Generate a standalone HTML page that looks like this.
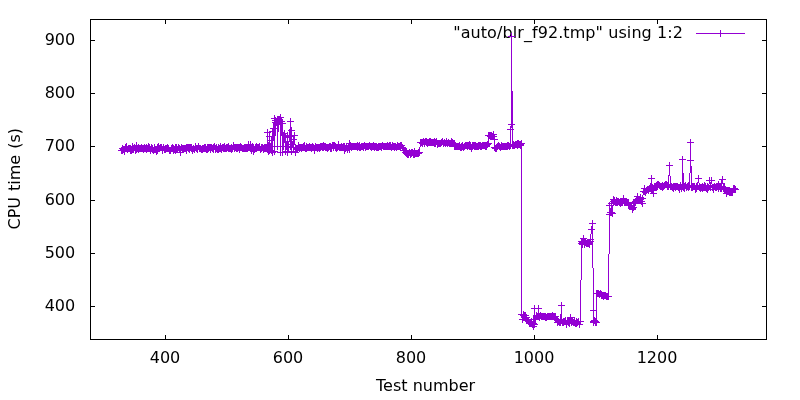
<!DOCTYPE html>
<html><head><meta charset="utf-8"><title>plot</title>
<style>
html,body{margin:0;padding:0;background:#fff;width:800px;height:400px;overflow:hidden}
svg{display:block}
text{font-family:"DejaVu Sans","Liberation Sans",sans-serif;font-size:16px;fill:#000}
</style></head><body>
<svg width="800" height="400" viewBox="0 0 800 400">
<rect width="800" height="400" fill="#fff"/>
<g id="axes" fill="none" stroke="#000" stroke-width="1">
<path d="M165.5 339.5v-4.5M165.5 19.5v4.5M288.5 339.5v-4.5M288.5 19.5v4.5M411.5 339.5v-4.5M411.5 19.5v4.5M534.5 339.5v-4.5M534.5 19.5v4.5M657.5 339.5v-4.5M657.5 19.5v4.5M90.5 306.5h4.5M766.5 306.5h-4.5M90.5 253.5h4.5M766.5 253.5h-4.5M90.5 200.5h4.5M766.5 200.5h-4.5M90.5 146.5h4.5M766.5 146.5h-4.5M90.5 93.5h4.5M766.5 93.5h-4.5M90.5 40.5h4.5M766.5 40.5h-4.5"/>
</g>
<g id="labels">
<text x="165.0" y="362.8" text-anchor="middle">400</text>
<text x="288.0" y="362.8" text-anchor="middle">600</text>
<text x="411.0" y="362.8" text-anchor="middle">800</text>
<text x="534.0" y="362.8" text-anchor="middle">1000</text>
<text x="657.0" y="362.8" text-anchor="middle">1200</text>
<text x="75.2" y="311.1" text-anchor="end">400</text>
<text x="75.2" y="258.1" text-anchor="end">500</text>
<text x="75.2" y="205.1" text-anchor="end">600</text>
<text x="75.2" y="151.1" text-anchor="end">700</text>
<text x="75.2" y="98.1" text-anchor="end">800</text>
<text x="75.2" y="45.1" text-anchor="end">900</text>
<text x="425.6" y="391.2" text-anchor="middle">Test number</text>
<text transform="translate(19.5,229.5) rotate(-90)" word-spacing="0.9">CPU time (s)</text>
<text x="683" y="38" text-anchor="end" letter-spacing="0.08">"auto/blr_f92.tmp" using 1:2</text>
</g>
<g id="data" fill="none" stroke="#9400D3" stroke-width="1" shape-rendering="crispEdges">
<path d="M696 33.5H745"/>
<path d="M717 33.5h7M720.5 30v7"/>
<polyline points="121.5,150.5 122.5,148.5 122.5,150.5 123.5,149.5 124.5,151.5 124.5,150.5 125.5,147.5 125.5,147.5 126.5,146.5 127.5,149.5 127.5,149.5 128.5,148.5 128.5,148.5 129.5,148.5 130.5,150.5 130.5,148.5 131.5,150.5 132.5,149.5 132.5,146.5 133.5,149.5 133.5,149.5 134.5,147.5 135.5,149.5 135.5,150.5 136.5,145.5 136.5,149.5 137.5,148.5 138.5,149.5 138.5,147.5 139.5,148.5 140.5,148.5 140.5,148.5 141.5,147.5 141.5,148.5 142.5,148.5 143.5,149.5 143.5,148.5 144.5,147.5 144.5,148.5 145.5,148.5 146.5,147.5 146.5,149.5 147.5,148.5 148.5,148.5 148.5,146.5 149.5,147.5 149.5,148.5 150.5,150.5 151.5,147.5 151.5,148.5 152.5,149.5 152.5,148.5 153.5,150.5 154.5,149.5 154.5,147.5 155.5,149.5 156.5,149.5 156.5,151.5 157.5,147.5 157.5,150.5 158.5,146.5 159.5,148.5 159.5,148.5 160.5,147.5 160.5,147.5 161.5,147.5 162.5,150.5 162.5,149.5 163.5,147.5 164.5,149.5 164.5,149.5 165.5,148.5 165.5,149.5 166.5,148.5 167.5,147.5 167.5,148.5 168.5,148.5 168.5,148.5 169.5,150.5 170.5,150.5 170.5,150.5 171.5,148.5 172.5,147.5 172.5,148.5 173.5,148.5 173.5,150.5 174.5,149.5 175.5,147.5 175.5,150.5 176.5,147.5 176.5,149.5 177.5,149.5 178.5,147.5 178.5,147.5 179.5,148.5 180.5,149.5 180.5,152.5 181.5,147.5 181.5,147.5 182.5,148.5 183.5,148.5 183.5,149.5 184.5,148.5 184.5,148.5 185.5,148.5 186.5,147.5 186.5,150.5 187.5,147.5 188.5,148.5 188.5,147.5 189.5,147.5 189.5,149.5 190.5,147.5 191.5,147.5 191.5,148.5 192.5,150.5 192.5,149.5 193.5,148.5 194.5,149.5 194.5,149.5 195.5,146.5 196.5,148.5 196.5,148.5 197.5,148.5 197.5,149.5 198.5,146.5 199.5,148.5 199.5,148.5 200.5,148.5 200.5,148.5 201.5,149.5 202.5,149.5 202.5,148.5 203.5,148.5 204.5,147.5 204.5,148.5 205.5,148.5 205.5,147.5 206.5,149.5 207.5,149.5 207.5,147.5 208.5,148.5 208.5,147.5 209.5,147.5 210.5,149.5 210.5,147.5 211.5,147.5 212.5,148.5 212.5,148.5 213.5,149.5 213.5,147.5 214.5,146.5 215.5,149.5 215.5,148.5 216.5,147.5 216.5,148.5 217.5,149.5 218.5,149.5 218.5,147.5 219.5,148.5 220.5,148.5 220.5,146.5 221.5,149.5 221.5,148.5 222.5,147.5 223.5,148.5 223.5,147.5 224.5,146.5 224.5,148.5 225.5,148.5 226.5,148.5 226.5,147.5 227.5,147.5 228.5,146.5 228.5,148.5 229.5,148.5 229.5,148.5 230.5,148.5 231.5,149.5 231.5,147.5 232.5,148.5 232.5,148.5 233.5,145.5 234.5,148.5 234.5,147.5 235.5,147.5 236.5,148.5 236.5,147.5 237.5,147.5 237.5,148.5 238.5,147.5 239.5,147.5 239.5,149.5 240.5,146.5 240.5,147.5 241.5,147.5 242.5,148.5 242.5,148.5 243.5,148.5 244.5,147.5 244.5,148.5 245.5,148.5 245.5,147.5 246.5,148.5 247.5,147.5 247.5,148.5 248.5,147.5 248.5,144.5 249.5,147.5 250.5,144.5 250.5,147.5 251.5,148.5 251.5,150.5 252.5,146.5 253.5,148.5 253.5,151.5 254.5,149.5 255.5,147.5 255.5,147.5 256.5,146.5 256.5,148.5 257.5,147.5 258.5,147.5 258.5,147.5 259.5,146.5 259.5,147.5 260.5,149.5 261.5,147.5 261.5,148.5 262.5,147.5 263.5,148.5 263.5,149.5 264.5,147.5 264.5,148.5 265.5,147.5 266.5,147.5 266.5,148.5 267.5,149.5 267.5,132.5 268.5,151.5 269.5,136.5 269.5,150.5 270.5,146.5 271.5,140.5 271.5,150.5 272.5,131.5 272.5,152.5 273.5,128.5 274.5,118.5 274.5,151.5 275.5,122.5 275.5,120.5 276.5,122.5 277.5,119.5 277.5,146.5 278.5,119.5 279.5,121.5 279.5,119.5 280.5,117.5 280.5,152.5 281.5,121.5 282.5,123.5 282.5,152.5 283.5,135.5 283.5,146.5 284.5,133.5 285.5,151.5 285.5,137.5 286.5,146.5 287.5,135.5 287.5,152.5 288.5,144.5 288.5,147.5 289.5,136.5 290.5,121.5 290.5,146.5 291.5,130.5 291.5,151.5 292.5,144.5 293.5,147.5 293.5,139.5 294.5,135.5 295.5,152.5 295.5,147.5 296.5,149.5 296.5,148.5 297.5,148.5 298.5,147.5 298.5,145.5 299.5,147.5 299.5,148.5 300.5,147.5 301.5,148.5 301.5,147.5 302.5,147.5 303.5,146.5 303.5,147.5 304.5,147.5 304.5,145.5 305.5,148.5 306.5,148.5 306.5,146.5 307.5,147.5 307.5,147.5 308.5,147.5 309.5,147.5 309.5,146.5 310.5,147.5 311.5,147.5 311.5,148.5 312.5,147.5 312.5,146.5 313.5,147.5 314.5,150.5 314.5,148.5 315.5,146.5 315.5,146.5 316.5,147.5 317.5,147.5 317.5,148.5 318.5,147.5 319.5,147.5 319.5,148.5 320.5,147.5 320.5,146.5 321.5,146.5 322.5,146.5 322.5,147.5 323.5,147.5 323.5,145.5 324.5,146.5 325.5,146.5 325.5,147.5 326.5,147.5 327.5,148.5 327.5,147.5 328.5,147.5 328.5,147.5 329.5,146.5 330.5,148.5 330.5,146.5 331.5,148.5 331.5,147.5 332.5,145.5 333.5,147.5 333.5,145.5 334.5,145.5 335.5,147.5 335.5,146.5 336.5,148.5 336.5,147.5 337.5,147.5 338.5,144.5 338.5,146.5 339.5,147.5 339.5,147.5 340.5,147.5 341.5,146.5 341.5,146.5 342.5,147.5 343.5,146.5 343.5,147.5 344.5,150.5 344.5,146.5 345.5,148.5 346.5,147.5 346.5,146.5 347.5,148.5 347.5,149.5 348.5,147.5 349.5,149.5 349.5,143.5 350.5,145.5 351.5,147.5 351.5,146.5 352.5,146.5 352.5,146.5 353.5,146.5 354.5,146.5 354.5,146.5 355.5,146.5 355.5,146.5 356.5,146.5 357.5,145.5 357.5,147.5 358.5,146.5 359.5,147.5 359.5,145.5 360.5,147.5 360.5,147.5 361.5,146.5 362.5,146.5 362.5,146.5 363.5,146.5 363.5,147.5 364.5,145.5 365.5,146.5 365.5,147.5 366.5,146.5 367.5,146.5 367.5,146.5 368.5,146.5 368.5,146.5 369.5,145.5 370.5,146.5 370.5,146.5 371.5,146.5 371.5,147.5 372.5,146.5 373.5,145.5 373.5,146.5 374.5,146.5 374.5,147.5 375.5,146.5 376.5,147.5 376.5,146.5 377.5,147.5 378.5,147.5 378.5,146.5 379.5,146.5 379.5,146.5 380.5,146.5 381.5,146.5 381.5,147.5 382.5,145.5 382.5,145.5 383.5,146.5 384.5,146.5 384.5,146.5 385.5,146.5 386.5,146.5 386.5,146.5 387.5,145.5 387.5,146.5 388.5,146.5 389.5,146.5 389.5,145.5 390.5,146.5 390.5,145.5 391.5,147.5 392.5,146.5 392.5,145.5 393.5,146.5 394.5,147.5 394.5,146.5 395.5,146.5 395.5,146.5 396.5,147.5 397.5,145.5 397.5,146.5 398.5,146.5 398.5,146.5 399.5,146.5 400.5,146.5 400.5,145.5 401.5,145.5 402.5,147.5 402.5,147.5 403.5,148.5 403.5,150.5 404.5,150.5 405.5,150.5 405.5,152.5 406.5,152.5 406.5,153.5 407.5,154.5 408.5,153.5 408.5,154.5 409.5,152.5 410.5,154.5 410.5,153.5 411.5,152.5 411.5,153.5 412.5,152.5 413.5,154.5 413.5,153.5 414.5,154.5 414.5,151.5 415.5,153.5 416.5,153.5 416.5,153.5 417.5,153.5 418.5,152.5 418.5,153.5 419.5,152.5 419.5,152.5 420.5,142.5 421.5,142.5 421.5,142.5 422.5,142.5 422.5,143.5 423.5,141.5 424.5,143.5 424.5,142.5 425.5,141.5 426.5,141.5 426.5,142.5 427.5,142.5 427.5,143.5 428.5,142.5 429.5,142.5 429.5,141.5 430.5,142.5 430.5,141.5 431.5,142.5 432.5,142.5 432.5,142.5 433.5,142.5 434.5,143.5 434.5,141.5 435.5,143.5 435.5,142.5 436.5,141.5 437.5,143.5 437.5,144.5 438.5,143.5 438.5,143.5 439.5,143.5 440.5,143.5 440.5,143.5 441.5,142.5 442.5,141.5 442.5,141.5 443.5,143.5 443.5,143.5 444.5,142.5 445.5,143.5 445.5,143.5 446.5,141.5 446.5,142.5 447.5,143.5 448.5,142.5 448.5,142.5 449.5,143.5 450.5,143.5 450.5,143.5 451.5,141.5 451.5,142.5 452.5,142.5 453.5,143.5 453.5,143.5 454.5,143.5 454.5,146.5 455.5,146.5 456.5,146.5 456.5,146.5 457.5,146.5 458.5,146.5 458.5,146.5 459.5,145.5 459.5,146.5 460.5,147.5 461.5,146.5 461.5,147.5 462.5,145.5 462.5,146.5 463.5,147.5 464.5,146.5 464.5,146.5 465.5,145.5 466.5,145.5 466.5,145.5 467.5,145.5 467.5,146.5 468.5,145.5 469.5,144.5 469.5,146.5 470.5,146.5 470.5,145.5 471.5,148.5 472.5,146.5 472.5,145.5 473.5,145.5 474.5,146.5 474.5,145.5 475.5,145.5 475.5,146.5 476.5,146.5 477.5,146.5 477.5,146.5 478.5,145.5 478.5,146.5 479.5,145.5 480.5,145.5 480.5,146.5 481.5,146.5 482.5,145.5 482.5,145.5 483.5,145.5 483.5,145.5 484.5,145.5 485.5,145.5 485.5,146.5 486.5,145.5 486.5,146.5 487.5,144.5 488.5,143.5 488.5,135.5 489.5,135.5 490.5,136.5 490.5,135.5 491.5,135.5 491.5,135.5 492.5,136.5 493.5,134.5 493.5,136.5 494.5,139.5 494.5,147.5 495.5,148.5 496.5,148.5 496.5,147.5 497.5,146.5 497.5,146.5 498.5,145.5 499.5,146.5 499.5,146.5 500.5,147.5 501.5,145.5 501.5,146.5 502.5,146.5 502.5,146.5 503.5,146.5 504.5,146.5 504.5,146.5 505.5,146.5 505.5,146.5 506.5,146.5 507.5,145.5 507.5,146.5 508.5,145.5 509.5,146.5 510.5,145.5 510.5,129.5 511.5,124.5 511.5,36.5 512.5,144.5 512.5,145.5 513.5,144.5 513.5,145.5 514.5,145.5 515.5,144.5 515.5,144.5 516.5,144.5 517.5,143.5 517.5,145.5 518.5,144.5 518.5,143.5 519.5,144.5 520.5,145.5 520.5,144.5 521.5,143.5 521.5,314.5 522.5,319.5 523.5,314.5 523.5,315.5 524.5,315.5 525.5,315.5 525.5,317.5 526.5,317.5 526.5,320.5 527.5,320.5 528.5,321.5 528.5,321.5 529.5,322.5 529.5,323.5 530.5,322.5 531.5,321.5 531.5,323.5 532.5,324.5 533.5,323.5 533.5,326.5 534.5,308.5 534.5,324.5 535.5,319.5 536.5,315.5 536.5,316.5 537.5,316.5 538.5,316.5 538.5,308.5 539.5,316.5 539.5,317.5 540.5,315.5 541.5,316.5 541.5,316.5 542.5,316.5 542.5,316.5 543.5,316.5 544.5,316.5 544.5,316.5 545.5,317.5 545.5,316.5 546.5,317.5 547.5,316.5 547.5,316.5 548.5,316.5 549.5,316.5 549.5,316.5 550.5,316.5 550.5,316.5 551.5,316.5 552.5,315.5 552.5,316.5 553.5,316.5 553.5,316.5 554.5,316.5 555.5,316.5 555.5,318.5 556.5,319.5 557.5,320.5 557.5,322.5 558.5,321.5 558.5,321.5 559.5,322.5 560.5,321.5 560.5,322.5 561.5,305.5 561.5,320.5 562.5,322.5 563.5,321.5 563.5,322.5 564.5,321.5 565.5,320.5 565.5,321.5 566.5,323.5 566.5,324.5 567.5,321.5 568.5,322.5 568.5,321.5 569.5,323.5 569.5,321.5 570.5,317.5 571.5,322.5 571.5,321.5 572.5,321.5 573.5,322.5 573.5,322.5 574.5,320.5 574.5,322.5 575.5,323.5 576.5,323.5 576.5,321.5 577.5,322.5 577.5,322.5 578.5,321.5 579.5,324.5 579.5,324.5 580.5,321.5 581.5,241.5 581.5,243.5 582.5,244.5 582.5,242.5 583.5,238.5 584.5,244.5 584.5,242.5 585.5,242.5 585.5,242.5 586.5,243.5 587.5,243.5 587.5,243.5 588.5,243.5 589.5,242.5 589.5,244.5 590.5,241.5 590.5,239.5 591.5,229.5 592.5,223.5 593.5,310.5 593.5,321.5 593.5,322.5 594.5,320.5 595.5,322.5 595.5,321.5 596.5,322.5 596.5,293.5 597.5,293.5 598.5,293.5 598.5,293.5 599.5,294.5 600.5,293.5 600.5,293.5 601.5,294.5 601.5,295.5 602.5,295.5 603.5,295.5 603.5,296.5 604.5,295.5 605.5,295.5 605.5,295.5 606.5,296.5 606.5,296.5 607.5,296.5 608.5,296.5 608.5,296.5 609.5,214.5 609.5,205.5 610.5,212.5 611.5,203.5 611.5,212.5 612.5,213.5 613.5,199.5 613.5,201.5 614.5,200.5 614.5,201.5 615.5,202.5 616.5,202.5 616.5,200.5 617.5,202.5 617.5,201.5 618.5,201.5 619.5,202.5 619.5,202.5 620.5,202.5 620.5,203.5 621.5,202.5 622.5,202.5 622.5,202.5 623.5,198.5 624.5,202.5 624.5,201.5 625.5,201.5 625.5,201.5 626.5,202.5 627.5,202.5 627.5,202.5 628.5,202.5 628.5,205.5 629.5,205.5 630.5,205.5 630.5,205.5 631.5,206.5 632.5,209.5 632.5,208.5 633.5,207.5 633.5,207.5 634.5,203.5 635.5,202.5 635.5,201.5 636.5,199.5 636.5,200.5 637.5,196.5 638.5,200.5 638.5,200.5 639.5,199.5 640.5,197.5 640.5,199.5 641.5,201.5 642.5,203.5 642.5,198.5 643.5,191.5 643.5,191.5 644.5,191.5 644.5,188.5 645.5,192.5 646.5,190.5 646.5,190.5 647.5,189.5 648.5,189.5 648.5,190.5 649.5,188.5 649.5,188.5 650.5,188.5 651.5,178.5 651.5,189.5 652.5,187.5 652.5,190.5 653.5,193.5 654.5,187.5 654.5,186.5 655.5,186.5 656.5,187.5 656.5,185.5 657.5,186.5 657.5,184.5 658.5,184.5 659.5,185.5 659.5,185.5 660.5,186.5 660.5,186.5 661.5,186.5 662.5,187.5 662.5,185.5 663.5,186.5 664.5,185.5 664.5,185.5 665.5,184.5 665.5,184.5 666.5,184.5 667.5,186.5 667.5,185.5 668.5,186.5 668.5,184.5 669.5,165.5 670.5,185.5 670.5,186.5 671.5,186.5 672.5,187.5 672.5,187.5 673.5,188.5 673.5,186.5 674.5,186.5 675.5,187.5 675.5,186.5 676.5,186.5 676.5,186.5 677.5,186.5 678.5,187.5 678.5,187.5 679.5,189.5 680.5,185.5 680.5,186.5 681.5,188.5 682.5,184.5 682.5,159.5 683.5,185.5 683.5,187.5 684.5,186.5 684.5,188.5 685.5,185.5 686.5,187.5 686.5,187.5 687.5,186.5 688.5,187.5 688.5,185.5 689.5,186.5 690.5,160.5 690.5,142.5 691.5,187.5 691.5,186.5 692.5,187.5 692.5,186.5 693.5,186.5 694.5,186.5 694.5,186.5 695.5,189.5 696.5,188.5 696.5,186.5 697.5,185.5 697.5,186.5 698.5,178.5 699.5,187.5 699.5,186.5 700.5,188.5 700.5,187.5 701.5,187.5 702.5,188.5 702.5,186.5 703.5,187.5 704.5,185.5 704.5,187.5 705.5,187.5 705.5,186.5 706.5,188.5 707.5,186.5 707.5,189.5 708.5,187.5 708.5,187.5 709.5,180.5 710.5,187.5 710.5,185.5 711.5,180.5 712.5,187.5 712.5,187.5 713.5,187.5 713.5,189.5 714.5,186.5 715.5,187.5 715.5,187.5 716.5,186.5 716.5,187.5 717.5,186.5 718.5,188.5 718.5,184.5 719.5,186.5 720.5,188.5 720.5,186.5 721.5,183.5 721.5,188.5 722.5,179.5 723.5,187.5 723.5,188.5 724.5,189.5 724.5,187.5 725.5,189.5 726.5,191.5 726.5,193.5 727.5,191.5 728.5,190.5 728.5,191.5 729.5,190.5 729.5,192.5 730.5,192.5 731.5,192.5 731.5,192.5 732.5,191.5 732.5,192.5 733.5,188.5 734.5,189.5 734.5,188.5 735.5,189.5"/>
<path d="M118 150.5h7M121.5 147v7M119 148.5h7M122.5 145v7M119 150.5h7M122.5 147v7M120 149.5h7M123.5 146v7M121 151.5h7M124.5 148v7M121 150.5h7M124.5 147v7M122 147.5h7M125.5 144v7M123 146.5h7M126.5 143v7M124 149.5h7M127.5 146v7M125 148.5h7M128.5 145v7M126 148.5h7M129.5 145v7M127 150.5h7M130.5 147v7M127 148.5h7M130.5 145v7M128 150.5h7M131.5 147v7M129 149.5h7M132.5 146v7M129 146.5h7M132.5 143v7M130 149.5h7M133.5 146v7M131 147.5h7M134.5 144v7M132 149.5h7M135.5 146v7M132 150.5h7M135.5 147v7M133 145.5h7M136.5 142v7M133 149.5h7M136.5 146v7M134 148.5h7M137.5 145v7M135 149.5h7M138.5 146v7M135 147.5h7M138.5 144v7M136 148.5h7M139.5 145v7M137 148.5h7M140.5 145v7M138 147.5h7M141.5 144v7M138 148.5h7M141.5 145v7M139 148.5h7M142.5 145v7M140 149.5h7M143.5 146v7M140 148.5h7M143.5 145v7M141 147.5h7M144.5 144v7M141 148.5h7M144.5 145v7M142 148.5h7M145.5 145v7M143 147.5h7M146.5 144v7M143 149.5h7M146.5 146v7M144 148.5h7M147.5 145v7M145 148.5h7M148.5 145v7M145 146.5h7M148.5 143v7M146 147.5h7M149.5 144v7M146 148.5h7M149.5 145v7M147 150.5h7M150.5 147v7M148 147.5h7M151.5 144v7M148 148.5h7M151.5 145v7M149 149.5h7M152.5 146v7M149 148.5h7M152.5 145v7M150 150.5h7M153.5 147v7M151 149.5h7M154.5 146v7M151 147.5h7M154.5 144v7M152 149.5h7M155.5 146v7M153 149.5h7M156.5 146v7M153 151.5h7M156.5 148v7M154 147.5h7M157.5 144v7M154 150.5h7M157.5 147v7M155 146.5h7M158.5 143v7M156 148.5h7M159.5 145v7M157 147.5h7M160.5 144v7M158 147.5h7M161.5 144v7M159 150.5h7M162.5 147v7M159 149.5h7M162.5 146v7M160 147.5h7M163.5 144v7M161 149.5h7M164.5 146v7M162 148.5h7M165.5 145v7M162 149.5h7M165.5 146v7M163 148.5h7M166.5 145v7M164 147.5h7M167.5 144v7M164 148.5h7M167.5 145v7M165 148.5h7M168.5 145v7M166 150.5h7M169.5 147v7M167 150.5h7M170.5 147v7M168 148.5h7M171.5 145v7M169 147.5h7M172.5 144v7M169 148.5h7M172.5 145v7M170 148.5h7M173.5 145v7M170 150.5h7M173.5 147v7M171 149.5h7M174.5 146v7M172 147.5h7M175.5 144v7M172 150.5h7M175.5 147v7M173 147.5h7M176.5 144v7M173 149.5h7M176.5 146v7M174 149.5h7M177.5 146v7M175 147.5h7M178.5 144v7M176 148.5h7M179.5 145v7M177 149.5h7M180.5 146v7M177 152.5h7M180.5 149v7M178 147.5h7M181.5 144v7M179 148.5h7M182.5 145v7M180 148.5h7M183.5 145v7M180 149.5h7M183.5 146v7M181 148.5h7M184.5 145v7M182 148.5h7M185.5 145v7M183 147.5h7M186.5 144v7M183 150.5h7M186.5 147v7M184 147.5h7M187.5 144v7M185 148.5h7M188.5 145v7M185 147.5h7M188.5 144v7M186 147.5h7M189.5 144v7M186 149.5h7M189.5 146v7M187 147.5h7M190.5 144v7M188 147.5h7M191.5 144v7M188 148.5h7M191.5 145v7M189 150.5h7M192.5 147v7M189 149.5h7M192.5 146v7M190 148.5h7M193.5 145v7M191 149.5h7M194.5 146v7M192 146.5h7M195.5 143v7M193 148.5h7M196.5 145v7M194 148.5h7M197.5 145v7M194 149.5h7M197.5 146v7M195 146.5h7M198.5 143v7M196 148.5h7M199.5 145v7M197 148.5h7M200.5 145v7M198 149.5h7M201.5 146v7M199 149.5h7M202.5 146v7M199 148.5h7M202.5 145v7M200 148.5h7M203.5 145v7M201 147.5h7M204.5 144v7M201 148.5h7M204.5 145v7M202 148.5h7M205.5 145v7M202 147.5h7M205.5 144v7M203 149.5h7M206.5 146v7M204 149.5h7M207.5 146v7M204 147.5h7M207.5 144v7M205 148.5h7M208.5 145v7M205 147.5h7M208.5 144v7M206 147.5h7M209.5 144v7M207 149.5h7M210.5 146v7M207 147.5h7M210.5 144v7M208 147.5h7M211.5 144v7M209 148.5h7M212.5 145v7M210 149.5h7M213.5 146v7M210 147.5h7M213.5 144v7M211 146.5h7M214.5 143v7M212 149.5h7M215.5 146v7M212 148.5h7M215.5 145v7M213 147.5h7M216.5 144v7M213 148.5h7M216.5 145v7M214 149.5h7M217.5 146v7M215 149.5h7M218.5 146v7M215 147.5h7M218.5 144v7M216 148.5h7M219.5 145v7M217 148.5h7M220.5 145v7M217 146.5h7M220.5 143v7M218 149.5h7M221.5 146v7M218 148.5h7M221.5 145v7M219 147.5h7M222.5 144v7M220 148.5h7M223.5 145v7M220 147.5h7M223.5 144v7M221 146.5h7M224.5 143v7M221 148.5h7M224.5 145v7M222 148.5h7M225.5 145v7M223 148.5h7M226.5 145v7M223 147.5h7M226.5 144v7M224 147.5h7M227.5 144v7M225 146.5h7M228.5 143v7M225 148.5h7M228.5 145v7M226 148.5h7M229.5 145v7M227 148.5h7M230.5 145v7M228 149.5h7M231.5 146v7M228 147.5h7M231.5 144v7M229 148.5h7M232.5 145v7M230 145.5h7M233.5 142v7M231 148.5h7M234.5 145v7M231 147.5h7M234.5 144v7M232 147.5h7M235.5 144v7M233 148.5h7M236.5 145v7M233 147.5h7M236.5 144v7M234 147.5h7M237.5 144v7M234 148.5h7M237.5 145v7M235 147.5h7M238.5 144v7M236 147.5h7M239.5 144v7M236 149.5h7M239.5 146v7M237 146.5h7M240.5 143v7M237 147.5h7M240.5 144v7M238 147.5h7M241.5 144v7M239 148.5h7M242.5 145v7M240 148.5h7M243.5 145v7M241 147.5h7M244.5 144v7M241 148.5h7M244.5 145v7M242 148.5h7M245.5 145v7M242 147.5h7M245.5 144v7M243 148.5h7M246.5 145v7M244 147.5h7M247.5 144v7M244 148.5h7M247.5 145v7M245 147.5h7M248.5 144v7M245 144.5h7M248.5 141v7M246 147.5h7M249.5 144v7M247 144.5h7M250.5 141v7M247 147.5h7M250.5 144v7M248 148.5h7M251.5 145v7M248 150.5h7M251.5 147v7M249 146.5h7M252.5 143v7M250 148.5h7M253.5 145v7M250 151.5h7M253.5 148v7M251 149.5h7M254.5 146v7M252 147.5h7M255.5 144v7M253 146.5h7M256.5 143v7M253 148.5h7M256.5 145v7M254 147.5h7M257.5 144v7M255 147.5h7M258.5 144v7M256 146.5h7M259.5 143v7M256 147.5h7M259.5 144v7M257 149.5h7M260.5 146v7M258 147.5h7M261.5 144v7M258 148.5h7M261.5 145v7M259 147.5h7M262.5 144v7M260 148.5h7M263.5 145v7M260 149.5h7M263.5 146v7M261 147.5h7M264.5 144v7M261 148.5h7M264.5 145v7M262 147.5h7M265.5 144v7M263 147.5h7M266.5 144v7M263 148.5h7M266.5 145v7M264 149.5h7M267.5 146v7M264 132.5h7M267.5 129v7M265 151.5h7M268.5 148v7M266 136.5h7M269.5 133v7M266 150.5h7M269.5 147v7M267 146.5h7M270.5 143v7M268 140.5h7M271.5 137v7M268 150.5h7M271.5 147v7M269 131.5h7M272.5 128v7M269 152.5h7M272.5 149v7M270 128.5h7M273.5 125v7M271 118.5h7M274.5 115v7M271 151.5h7M274.5 148v7M272 122.5h7M275.5 119v7M272 120.5h7M275.5 117v7M273 122.5h7M276.5 119v7M274 119.5h7M277.5 116v7M274 146.5h7M277.5 143v7M275 119.5h7M278.5 116v7M276 121.5h7M279.5 118v7M276 119.5h7M279.5 116v7M277 117.5h7M280.5 114v7M277 152.5h7M280.5 149v7M278 121.5h7M281.5 118v7M279 123.5h7M282.5 120v7M279 152.5h7M282.5 149v7M280 135.5h7M283.5 132v7M280 146.5h7M283.5 143v7M281 133.5h7M284.5 130v7M282 151.5h7M285.5 148v7M282 137.5h7M285.5 134v7M283 146.5h7M286.5 143v7M284 135.5h7M287.5 132v7M284 152.5h7M287.5 149v7M285 144.5h7M288.5 141v7M285 147.5h7M288.5 144v7M286 136.5h7M289.5 133v7M287 121.5h7M290.5 118v7M287 146.5h7M290.5 143v7M288 130.5h7M291.5 127v7M288 151.5h7M291.5 148v7M289 144.5h7M292.5 141v7M290 147.5h7M293.5 144v7M290 139.5h7M293.5 136v7M291 135.5h7M294.5 132v7M292 152.5h7M295.5 149v7M292 147.5h7M295.5 144v7M293 149.5h7M296.5 146v7M293 148.5h7M296.5 145v7M294 148.5h7M297.5 145v7M295 147.5h7M298.5 144v7M295 145.5h7M298.5 142v7M296 147.5h7M299.5 144v7M296 148.5h7M299.5 145v7M297 147.5h7M300.5 144v7M298 148.5h7M301.5 145v7M298 147.5h7M301.5 144v7M299 147.5h7M302.5 144v7M300 146.5h7M303.5 143v7M300 147.5h7M303.5 144v7M301 147.5h7M304.5 144v7M301 145.5h7M304.5 142v7M302 148.5h7M305.5 145v7M303 148.5h7M306.5 145v7M303 146.5h7M306.5 143v7M304 147.5h7M307.5 144v7M305 147.5h7M308.5 144v7M306 147.5h7M309.5 144v7M306 146.5h7M309.5 143v7M307 147.5h7M310.5 144v7M308 147.5h7M311.5 144v7M308 148.5h7M311.5 145v7M309 147.5h7M312.5 144v7M309 146.5h7M312.5 143v7M310 147.5h7M313.5 144v7M311 150.5h7M314.5 147v7M311 148.5h7M314.5 145v7M312 146.5h7M315.5 143v7M313 147.5h7M316.5 144v7M314 147.5h7M317.5 144v7M314 148.5h7M317.5 145v7M315 147.5h7M318.5 144v7M316 147.5h7M319.5 144v7M316 148.5h7M319.5 145v7M317 147.5h7M320.5 144v7M317 146.5h7M320.5 143v7M318 146.5h7M321.5 143v7M319 146.5h7M322.5 143v7M319 147.5h7M322.5 144v7M320 147.5h7M323.5 144v7M320 145.5h7M323.5 142v7M321 146.5h7M324.5 143v7M322 146.5h7M325.5 143v7M322 147.5h7M325.5 144v7M323 147.5h7M326.5 144v7M324 148.5h7M327.5 145v7M324 147.5h7M327.5 144v7M325 147.5h7M328.5 144v7M326 146.5h7M329.5 143v7M327 148.5h7M330.5 145v7M327 146.5h7M330.5 143v7M328 148.5h7M331.5 145v7M328 147.5h7M331.5 144v7M329 145.5h7M332.5 142v7M330 147.5h7M333.5 144v7M330 145.5h7M333.5 142v7M331 145.5h7M334.5 142v7M332 147.5h7M335.5 144v7M332 146.5h7M335.5 143v7M333 148.5h7M336.5 145v7M333 147.5h7M336.5 144v7M334 147.5h7M337.5 144v7M335 144.5h7M338.5 141v7M335 146.5h7M338.5 143v7M336 147.5h7M339.5 144v7M337 147.5h7M340.5 144v7M338 146.5h7M341.5 143v7M339 147.5h7M342.5 144v7M340 146.5h7M343.5 143v7M340 147.5h7M343.5 144v7M341 150.5h7M344.5 147v7M341 146.5h7M344.5 143v7M342 148.5h7M345.5 145v7M343 147.5h7M346.5 144v7M343 146.5h7M346.5 143v7M344 148.5h7M347.5 145v7M344 149.5h7M347.5 146v7M345 147.5h7M348.5 144v7M346 149.5h7M349.5 146v7M346 143.5h7M349.5 140v7M347 145.5h7M350.5 142v7M348 147.5h7M351.5 144v7M348 146.5h7M351.5 143v7M349 146.5h7M352.5 143v7M350 146.5h7M353.5 143v7M351 146.5h7M354.5 143v7M352 146.5h7M355.5 143v7M353 146.5h7M356.5 143v7M354 145.5h7M357.5 142v7M354 147.5h7M357.5 144v7M355 146.5h7M358.5 143v7M356 147.5h7M359.5 144v7M356 145.5h7M359.5 142v7M357 147.5h7M360.5 144v7M358 146.5h7M361.5 143v7M359 146.5h7M362.5 143v7M360 146.5h7M363.5 143v7M360 147.5h7M363.5 144v7M361 145.5h7M364.5 142v7M362 146.5h7M365.5 143v7M362 147.5h7M365.5 144v7M363 146.5h7M366.5 143v7M364 146.5h7M367.5 143v7M365 146.5h7M368.5 143v7M366 145.5h7M369.5 142v7M367 146.5h7M370.5 143v7M368 146.5h7M371.5 143v7M368 147.5h7M371.5 144v7M369 146.5h7M372.5 143v7M370 145.5h7M373.5 142v7M370 146.5h7M373.5 143v7M371 146.5h7M374.5 143v7M371 147.5h7M374.5 144v7M372 146.5h7M375.5 143v7M373 147.5h7M376.5 144v7M373 146.5h7M376.5 143v7M374 147.5h7M377.5 144v7M375 147.5h7M378.5 144v7M375 146.5h7M378.5 143v7M376 146.5h7M379.5 143v7M377 146.5h7M380.5 143v7M378 146.5h7M381.5 143v7M378 147.5h7M381.5 144v7M379 145.5h7M382.5 142v7M380 146.5h7M383.5 143v7M381 146.5h7M384.5 143v7M382 146.5h7M385.5 143v7M383 146.5h7M386.5 143v7M384 145.5h7M387.5 142v7M384 146.5h7M387.5 143v7M385 146.5h7M388.5 143v7M386 146.5h7M389.5 143v7M386 145.5h7M389.5 142v7M387 146.5h7M390.5 143v7M387 145.5h7M390.5 142v7M388 147.5h7M391.5 144v7M389 146.5h7M392.5 143v7M389 145.5h7M392.5 142v7M390 146.5h7M393.5 143v7M391 147.5h7M394.5 144v7M391 146.5h7M394.5 143v7M392 146.5h7M395.5 143v7M393 147.5h7M396.5 144v7M394 145.5h7M397.5 142v7M394 146.5h7M397.5 143v7M395 146.5h7M398.5 143v7M396 146.5h7M399.5 143v7M397 146.5h7M400.5 143v7M397 145.5h7M400.5 142v7M398 145.5h7M401.5 142v7M399 147.5h7M402.5 144v7M400 148.5h7M403.5 145v7M400 150.5h7M403.5 147v7M401 150.5h7M404.5 147v7M402 150.5h7M405.5 147v7M402 152.5h7M405.5 149v7M403 152.5h7M406.5 149v7M403 153.5h7M406.5 150v7M404 154.5h7M407.5 151v7M405 153.5h7M408.5 150v7M405 154.5h7M408.5 151v7M406 152.5h7M409.5 149v7M407 154.5h7M410.5 151v7M407 153.5h7M410.5 150v7M408 152.5h7M411.5 149v7M408 153.5h7M411.5 150v7M409 152.5h7M412.5 149v7M410 154.5h7M413.5 151v7M410 153.5h7M413.5 150v7M411 154.5h7M414.5 151v7M411 151.5h7M414.5 148v7M412 153.5h7M415.5 150v7M413 153.5h7M416.5 150v7M414 153.5h7M417.5 150v7M415 152.5h7M418.5 149v7M415 153.5h7M418.5 150v7M416 152.5h7M419.5 149v7M417 142.5h7M420.5 139v7M418 142.5h7M421.5 139v7M419 142.5h7M422.5 139v7M419 143.5h7M422.5 140v7M420 141.5h7M423.5 138v7M421 143.5h7M424.5 140v7M421 142.5h7M424.5 139v7M422 141.5h7M425.5 138v7M423 141.5h7M426.5 138v7M423 142.5h7M426.5 139v7M424 142.5h7M427.5 139v7M424 143.5h7M427.5 140v7M425 142.5h7M428.5 139v7M426 142.5h7M429.5 139v7M426 141.5h7M429.5 138v7M427 142.5h7M430.5 139v7M427 141.5h7M430.5 138v7M428 142.5h7M431.5 139v7M429 142.5h7M432.5 139v7M430 142.5h7M433.5 139v7M431 143.5h7M434.5 140v7M431 141.5h7M434.5 138v7M432 143.5h7M435.5 140v7M432 142.5h7M435.5 139v7M433 141.5h7M436.5 138v7M434 143.5h7M437.5 140v7M434 144.5h7M437.5 141v7M435 143.5h7M438.5 140v7M436 143.5h7M439.5 140v7M437 143.5h7M440.5 140v7M438 142.5h7M441.5 139v7M439 141.5h7M442.5 138v7M440 143.5h7M443.5 140v7M441 142.5h7M444.5 139v7M442 143.5h7M445.5 140v7M443 141.5h7M446.5 138v7M443 142.5h7M446.5 139v7M444 143.5h7M447.5 140v7M445 142.5h7M448.5 139v7M446 143.5h7M449.5 140v7M447 143.5h7M450.5 140v7M448 141.5h7M451.5 138v7M448 142.5h7M451.5 139v7M449 142.5h7M452.5 139v7M450 143.5h7M453.5 140v7M451 143.5h7M454.5 140v7M451 146.5h7M454.5 143v7M452 146.5h7M455.5 143v7M453 146.5h7M456.5 143v7M454 146.5h7M457.5 143v7M455 146.5h7M458.5 143v7M456 145.5h7M459.5 142v7M456 146.5h7M459.5 143v7M457 147.5h7M460.5 144v7M458 146.5h7M461.5 143v7M458 147.5h7M461.5 144v7M459 145.5h7M462.5 142v7M459 146.5h7M462.5 143v7M460 147.5h7M463.5 144v7M461 146.5h7M464.5 143v7M462 145.5h7M465.5 142v7M463 145.5h7M466.5 142v7M464 145.5h7M467.5 142v7M464 146.5h7M467.5 143v7M465 145.5h7M468.5 142v7M466 144.5h7M469.5 141v7M466 146.5h7M469.5 143v7M467 146.5h7M470.5 143v7M467 145.5h7M470.5 142v7M468 148.5h7M471.5 145v7M469 146.5h7M472.5 143v7M469 145.5h7M472.5 142v7M470 145.5h7M473.5 142v7M471 146.5h7M474.5 143v7M471 145.5h7M474.5 142v7M472 145.5h7M475.5 142v7M472 146.5h7M475.5 143v7M473 146.5h7M476.5 143v7M474 146.5h7M477.5 143v7M475 145.5h7M478.5 142v7M475 146.5h7M478.5 143v7M476 145.5h7M479.5 142v7M477 145.5h7M480.5 142v7M477 146.5h7M480.5 143v7M478 146.5h7M481.5 143v7M479 145.5h7M482.5 142v7M480 145.5h7M483.5 142v7M481 145.5h7M484.5 142v7M482 145.5h7M485.5 142v7M482 146.5h7M485.5 143v7M483 145.5h7M486.5 142v7M483 146.5h7M486.5 143v7M484 144.5h7M487.5 141v7M485 143.5h7M488.5 140v7M485 135.5h7M488.5 132v7M486 135.5h7M489.5 132v7M487 136.5h7M490.5 133v7M487 135.5h7M490.5 132v7M488 135.5h7M491.5 132v7M489 136.5h7M492.5 133v7M490 134.5h7M493.5 131v7M490 136.5h7M493.5 133v7M491 139.5h7M494.5 136v7M491 147.5h7M494.5 144v7M492 148.5h7M495.5 145v7M493 148.5h7M496.5 145v7M493 147.5h7M496.5 144v7M494 146.5h7M497.5 143v7M495 145.5h7M498.5 142v7M496 146.5h7M499.5 143v7M497 147.5h7M500.5 144v7M498 145.5h7M501.5 142v7M498 146.5h7M501.5 143v7M499 146.5h7M502.5 143v7M500 146.5h7M503.5 143v7M501 146.5h7M504.5 143v7M502 146.5h7M505.5 143v7M503 146.5h7M506.5 143v7M504 145.5h7M507.5 142v7M504 146.5h7M507.5 143v7M505 145.5h7M508.5 142v7M506 146.5h7M509.5 143v7M507 145.5h7M510.5 142v7M507 129.5h7M510.5 126v7M508 124.5h7M511.5 121v7M508 36.5h7M511.5 33v7M509 144.5h7M512.5 141v7M509 145.5h7M512.5 142v7M510 144.5h7M513.5 141v7M510 145.5h7M513.5 142v7M511 145.5h7M514.5 142v7M512 144.5h7M515.5 141v7M513 144.5h7M516.5 141v7M514 143.5h7M517.5 140v7M514 145.5h7M517.5 142v7M515 144.5h7M518.5 141v7M515 143.5h7M518.5 140v7M516 144.5h7M519.5 141v7M517 145.5h7M520.5 142v7M517 144.5h7M520.5 141v7M518 143.5h7M521.5 140v7M518 314.5h7M521.5 311v7M519 319.5h7M522.5 316v7M520 314.5h7M523.5 311v7M520 315.5h7M523.5 312v7M521 315.5h7M524.5 312v7M522 315.5h7M525.5 312v7M522 317.5h7M525.5 314v7M523 317.5h7M526.5 314v7M523 320.5h7M526.5 317v7M524 320.5h7M527.5 317v7M525 321.5h7M528.5 318v7M526 322.5h7M529.5 319v7M526 323.5h7M529.5 320v7M527 322.5h7M530.5 319v7M528 321.5h7M531.5 318v7M528 323.5h7M531.5 320v7M529 324.5h7M532.5 321v7M530 323.5h7M533.5 320v7M530 326.5h7M533.5 323v7M531 308.5h7M534.5 305v7M531 324.5h7M534.5 321v7M532 319.5h7M535.5 316v7M533 315.5h7M536.5 312v7M533 316.5h7M536.5 313v7M534 316.5h7M537.5 313v7M535 316.5h7M538.5 313v7M535 308.5h7M538.5 305v7M536 316.5h7M539.5 313v7M536 317.5h7M539.5 314v7M537 315.5h7M540.5 312v7M538 316.5h7M541.5 313v7M539 316.5h7M542.5 313v7M540 316.5h7M543.5 313v7M541 316.5h7M544.5 313v7M542 317.5h7M545.5 314v7M542 316.5h7M545.5 313v7M543 317.5h7M546.5 314v7M544 316.5h7M547.5 313v7M545 316.5h7M548.5 313v7M546 316.5h7M549.5 313v7M547 316.5h7M550.5 313v7M548 316.5h7M551.5 313v7M549 315.5h7M552.5 312v7M549 316.5h7M552.5 313v7M550 316.5h7M553.5 313v7M551 316.5h7M554.5 313v7M552 316.5h7M555.5 313v7M552 318.5h7M555.5 315v7M553 319.5h7M556.5 316v7M554 320.5h7M557.5 317v7M554 322.5h7M557.5 319v7M555 321.5h7M558.5 318v7M556 322.5h7M559.5 319v7M557 321.5h7M560.5 318v7M557 322.5h7M560.5 319v7M558 305.5h7M561.5 302v7M558 320.5h7M561.5 317v7M559 322.5h7M562.5 319v7M560 321.5h7M563.5 318v7M560 322.5h7M563.5 319v7M561 321.5h7M564.5 318v7M562 320.5h7M565.5 317v7M562 321.5h7M565.5 318v7M563 323.5h7M566.5 320v7M563 324.5h7M566.5 321v7M564 321.5h7M567.5 318v7M565 322.5h7M568.5 319v7M565 321.5h7M568.5 318v7M566 323.5h7M569.5 320v7M566 321.5h7M569.5 318v7M567 317.5h7M570.5 314v7M568 322.5h7M571.5 319v7M568 321.5h7M571.5 318v7M569 321.5h7M572.5 318v7M570 322.5h7M573.5 319v7M571 320.5h7M574.5 317v7M571 322.5h7M574.5 319v7M572 323.5h7M575.5 320v7M573 323.5h7M576.5 320v7M573 321.5h7M576.5 318v7M574 322.5h7M577.5 319v7M575 321.5h7M578.5 318v7M576 324.5h7M579.5 321v7M577 321.5h7M580.5 318v7M578 241.5h7M581.5 238v7M578 243.5h7M581.5 240v7M579 244.5h7M582.5 241v7M579 242.5h7M582.5 239v7M580 238.5h7M583.5 235v7M581 244.5h7M584.5 241v7M581 242.5h7M584.5 239v7M582 242.5h7M585.5 239v7M583 243.5h7M586.5 240v7M584 243.5h7M587.5 240v7M585 243.5h7M588.5 240v7M586 242.5h7M589.5 239v7M586 244.5h7M589.5 241v7M587 241.5h7M590.5 238v7M587 239.5h7M590.5 236v7M588 229.5h7M591.5 226v7M589 223.5h7M592.5 220v7M590 310.5h7M593.5 307v7M590 321.5h7M593.5 318v7M590 322.5h7M593.5 319v7M591 320.5h7M594.5 317v7M592 322.5h7M595.5 319v7M592 321.5h7M595.5 318v7M593 322.5h7M596.5 319v7M593 293.5h7M596.5 290v7M594 293.5h7M597.5 290v7M595 293.5h7M598.5 290v7M596 294.5h7M599.5 291v7M597 293.5h7M600.5 290v7M598 294.5h7M601.5 291v7M598 295.5h7M601.5 292v7M599 295.5h7M602.5 292v7M600 295.5h7M603.5 292v7M600 296.5h7M603.5 293v7M601 295.5h7M604.5 292v7M602 295.5h7M605.5 292v7M603 296.5h7M606.5 293v7M604 296.5h7M607.5 293v7M605 296.5h7M608.5 293v7M606 214.5h7M609.5 211v7M606 205.5h7M609.5 202v7M607 212.5h7M610.5 209v7M608 203.5h7M611.5 200v7M608 212.5h7M611.5 209v7M609 213.5h7M612.5 210v7M610 199.5h7M613.5 196v7M610 201.5h7M613.5 198v7M611 200.5h7M614.5 197v7M611 201.5h7M614.5 198v7M612 202.5h7M615.5 199v7M613 202.5h7M616.5 199v7M613 200.5h7M616.5 197v7M614 202.5h7M617.5 199v7M614 201.5h7M617.5 198v7M615 201.5h7M618.5 198v7M616 202.5h7M619.5 199v7M617 202.5h7M620.5 199v7M617 203.5h7M620.5 200v7M618 202.5h7M621.5 199v7M619 202.5h7M622.5 199v7M620 198.5h7M623.5 195v7M621 202.5h7M624.5 199v7M621 201.5h7M624.5 198v7M622 201.5h7M625.5 198v7M623 202.5h7M626.5 199v7M624 202.5h7M627.5 199v7M625 202.5h7M628.5 199v7M625 205.5h7M628.5 202v7M626 205.5h7M629.5 202v7M627 205.5h7M630.5 202v7M628 206.5h7M631.5 203v7M629 209.5h7M632.5 206v7M629 208.5h7M632.5 205v7M630 207.5h7M633.5 204v7M631 203.5h7M634.5 200v7M632 202.5h7M635.5 199v7M632 201.5h7M635.5 198v7M633 199.5h7M636.5 196v7M633 200.5h7M636.5 197v7M634 196.5h7M637.5 193v7M635 200.5h7M638.5 197v7M636 199.5h7M639.5 196v7M637 197.5h7M640.5 194v7M637 199.5h7M640.5 196v7M638 201.5h7M641.5 198v7M639 203.5h7M642.5 200v7M639 198.5h7M642.5 195v7M640 191.5h7M643.5 188v7M641 191.5h7M644.5 188v7M641 188.5h7M644.5 185v7M642 192.5h7M645.5 189v7M643 190.5h7M646.5 187v7M644 189.5h7M647.5 186v7M645 189.5h7M648.5 186v7M645 190.5h7M648.5 187v7M646 188.5h7M649.5 185v7M647 188.5h7M650.5 185v7M648 178.5h7M651.5 175v7M648 189.5h7M651.5 186v7M649 187.5h7M652.5 184v7M649 190.5h7M652.5 187v7M650 193.5h7M653.5 190v7M651 187.5h7M654.5 184v7M651 186.5h7M654.5 183v7M652 186.5h7M655.5 183v7M653 187.5h7M656.5 184v7M653 185.5h7M656.5 182v7M654 186.5h7M657.5 183v7M654 184.5h7M657.5 181v7M655 184.5h7M658.5 181v7M656 185.5h7M659.5 182v7M657 186.5h7M660.5 183v7M658 186.5h7M661.5 183v7M659 187.5h7M662.5 184v7M659 185.5h7M662.5 182v7M660 186.5h7M663.5 183v7M661 185.5h7M664.5 182v7M662 184.5h7M665.5 181v7M663 184.5h7M666.5 181v7M664 186.5h7M667.5 183v7M664 185.5h7M667.5 182v7M665 186.5h7M668.5 183v7M665 184.5h7M668.5 181v7M666 165.5h7M669.5 162v7M667 185.5h7M670.5 182v7M667 186.5h7M670.5 183v7M668 186.5h7M671.5 183v7M669 187.5h7M672.5 184v7M670 188.5h7M673.5 185v7M670 186.5h7M673.5 183v7M671 186.5h7M674.5 183v7M672 187.5h7M675.5 184v7M672 186.5h7M675.5 183v7M673 186.5h7M676.5 183v7M674 186.5h7M677.5 183v7M675 187.5h7M678.5 184v7M676 189.5h7M679.5 186v7M677 185.5h7M680.5 182v7M677 186.5h7M680.5 183v7M678 188.5h7M681.5 185v7M679 184.5h7M682.5 181v7M679 159.5h7M682.5 156v7M680 185.5h7M683.5 182v7M680 187.5h7M683.5 184v7M681 186.5h7M684.5 183v7M681 188.5h7M684.5 185v7M682 185.5h7M685.5 182v7M683 187.5h7M686.5 184v7M684 186.5h7M687.5 183v7M685 187.5h7M688.5 184v7M685 185.5h7M688.5 182v7M686 186.5h7M689.5 183v7M687 160.5h7M690.5 157v7M687 142.5h7M690.5 139v7M688 187.5h7M691.5 184v7M688 186.5h7M691.5 183v7M689 187.5h7M692.5 184v7M689 186.5h7M692.5 183v7M690 186.5h7M693.5 183v7M691 186.5h7M694.5 183v7M692 189.5h7M695.5 186v7M693 188.5h7M696.5 185v7M693 186.5h7M696.5 183v7M694 185.5h7M697.5 182v7M694 186.5h7M697.5 183v7M695 178.5h7M698.5 175v7M696 187.5h7M699.5 184v7M696 186.5h7M699.5 183v7M697 188.5h7M700.5 185v7M697 187.5h7M700.5 184v7M698 187.5h7M701.5 184v7M699 188.5h7M702.5 185v7M699 186.5h7M702.5 183v7M700 187.5h7M703.5 184v7M701 185.5h7M704.5 182v7M701 187.5h7M704.5 184v7M702 187.5h7M705.5 184v7M702 186.5h7M705.5 183v7M703 188.5h7M706.5 185v7M704 186.5h7M707.5 183v7M704 189.5h7M707.5 186v7M705 187.5h7M708.5 184v7M706 180.5h7M709.5 177v7M707 187.5h7M710.5 184v7M707 185.5h7M710.5 182v7M708 180.5h7M711.5 177v7M709 187.5h7M712.5 184v7M710 187.5h7M713.5 184v7M710 189.5h7M713.5 186v7M711 186.5h7M714.5 183v7M712 187.5h7M715.5 184v7M713 186.5h7M716.5 183v7M713 187.5h7M716.5 184v7M714 186.5h7M717.5 183v7M715 188.5h7M718.5 185v7M715 184.5h7M718.5 181v7M716 186.5h7M719.5 183v7M717 188.5h7M720.5 185v7M717 186.5h7M720.5 183v7M718 183.5h7M721.5 180v7M718 188.5h7M721.5 185v7M719 179.5h7M722.5 176v7M720 187.5h7M723.5 184v7M720 188.5h7M723.5 185v7M721 189.5h7M724.5 186v7M721 187.5h7M724.5 184v7M722 189.5h7M725.5 186v7M723 191.5h7M726.5 188v7M723 193.5h7M726.5 190v7M724 191.5h7M727.5 188v7M725 190.5h7M728.5 187v7M725 191.5h7M728.5 188v7M726 190.5h7M729.5 187v7M726 192.5h7M729.5 189v7M727 192.5h7M730.5 189v7M728 192.5h7M731.5 189v7M729 191.5h7M732.5 188v7M729 192.5h7M732.5 189v7M730 188.5h7M733.5 185v7M731 189.5h7M734.5 186v7M731 188.5h7M734.5 185v7M732 189.5h7M735.5 186v7"/>
</g>
<rect x="90.5" y="19.5" width="676.0" height="320.0" fill="none" stroke="#000" stroke-width="1"/>
</svg>
</body></html>
